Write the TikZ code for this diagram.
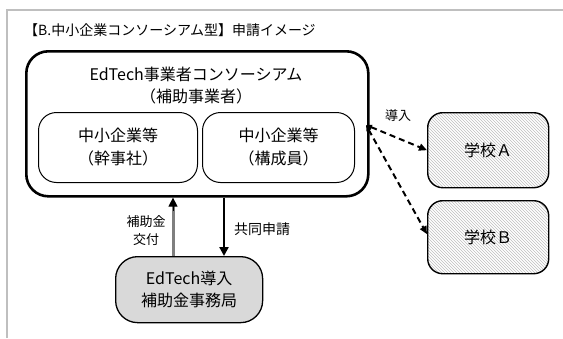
\documentclass[tikz,border=0pt]{standalone}
\usepackage{fontspec}
\setmainfont{Noto Sans CJK JP}
\usetikzlibrary{arrows.meta,patterns}
\definecolor{framegray}{HTML}{BFBFBF}
\definecolor{boxgray}{HTML}{D9D9D9}
\definecolor{arrgray}{HTML}{7F7F7F}
\definecolor{hatchgray}{HTML}{BFBFBF}
\begin{document}
\begin{tikzpicture}[x=1pt,y=-1pt,
  bigtxt/.style={font=\fontsize{16}{22}\selectfont, align=center, inner sep=0pt},
  smalltxt/.style={font=\fontsize{13}{18}\selectfont, align=center, inner sep=0pt},
  outerbox/.style={draw, line width=2.6pt, rounded corners=22pt, anchor=north west, inner sep=0pt},
  innerbox/.style={draw, line width=1pt, rounded corners=18pt, anchor=north west, inner sep=0pt, font=\fontsize{16}{23}\selectfont, align=center},
  schoolbox/.style={draw, line width=1.4pt, rounded corners=15pt, anchor=north west, inner sep=0pt,
     preaction={fill=white}, pattern=north west lines, pattern color=hatchgray, font=\fontsize{16}{20}\selectfont},
  officebox/.style={draw, line width=1.3pt, rounded corners=22pt, anchor=north west, inner sep=0pt,
     fill=boxgray, font=\fontsize{16}{22}\selectfont, align=center},
  dasharrow/.style={line width=2pt, dash pattern=on 6pt off 4pt, {Triangle[length=6pt,width=5pt]}-{Triangle[length=8pt,width=7pt]}},
]
\useasboundingbox (0,0) rectangle (563,338);
% frame
\draw[framegray, line width=1.8pt] (7,338) -- (7,10) -- (563,10);
% title
\node[anchor=west, inner sep=0pt, font=\fontsize{14}{16}\selectfont] (title) at (24,30) {【B.中小企業コンソーシアム型】申請イメージ};
% consortium
\node[outerbox, minimum width=342pt, minimum height=145pt] (cons) at (25,50) {};
\node[bigtxt] (constxt) at (196,86) {EdTech事業者コンソーシアム\\（補助事業者）};
\node[innerbox, minimum width=159pt, minimum height=70pt] (kanji) at (38,112) {中小企業等\\（幹事社）};
\node[innerbox, minimum width=152pt, minimum height=70pt] (kosei) at (202,112) {中小企業等\\（構成員）};
% schools
\node[schoolbox, minimum width=121pt, minimum height=75pt] (schA) at (427,112) {学校Ａ};
\node[schoolbox, minimum width=121pt, minimum height=73pt] (schB) at (427,200) {学校Ｂ};
% office
\node[officebox, minimum width=147pt, minimum height=66pt] (office) at (115,256) {EdTech導入\\補助金事務局};
% vertical arrows
\coordinate (upx) at (173,0);
\coordinate (downx) at (224,0);
\draw[draw=arrgray, line width=3pt, shorten >=7pt] (office.north -| upx) -- (cons.south -| upx);
\draw[draw=black, line width=1pt, shorten <=45pt, -{Triangle[length=9pt,width=9pt]}] (office.north -| upx) -- (cons.south -| upx);
\draw[black, line width=2.2pt, -{Triangle[length=9pt,width=9pt]}] (cons.south -| downx) -- (office.north -| downx);
\node[smalltxt] (hojolbl) at (146,231) {補助金\\交付};
\node[font=\fontsize{14}{16}\selectfont, inner sep=0pt] (kyodolbl) at (262,229) {共同申請};
% dashed arrows
\coordinate (src) at (366,125);
\draw[dasharrow] (src) -- (schA.west);
\draw[dasharrow] (src) -- ([yshift=3pt]schB.west);
\node[smalltxt] (donyu) at (398,116) {導入};
\end{tikzpicture}
\end{document}
